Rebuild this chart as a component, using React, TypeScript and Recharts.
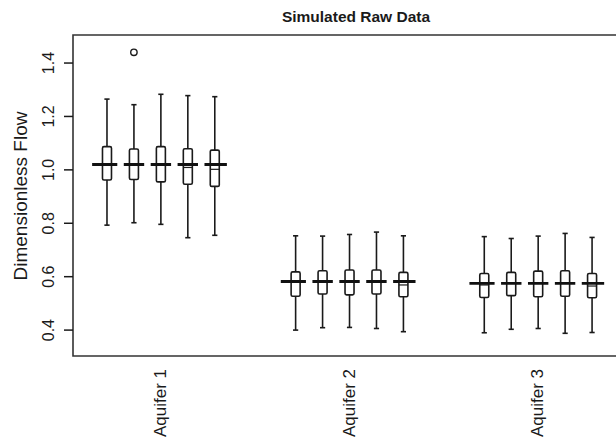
import React from "react";
import {
  ComposedChart,
  Bar,
  Scatter,
  XAxis,
  YAxis,
  ReferenceLine,
  ReferenceArea,
} from "recharts";

const groups = ["Aquifer 1", "Aquifer 2", "Aquifer 3"];
const groupTicks = [3, 10, 17];
const groupStart = [1, 8, 15];
const groupEnd = [5, 12, 19];
const trueValues = [1.02, 0.582, 0.575];

const positions = [1, 2, 3, 4, 5, 8, 9, 10, 11, 12, 15, 16, 17, 18, 19];
const whiskerHigh = [1.265, 1.244, 1.283, 1.278, 1.274, 0.753, 0.752, 0.758, 0.767, 0.753, 0.75, 0.743, 0.752, 0.762, 0.747];
const q3 = [1.087, 1.078, 1.087, 1.079, 1.074, 0.618, 0.622, 0.625, 0.625, 0.616, 0.612, 0.616, 0.621, 0.622, 0.612];
const medians = [1.022, 1.02, 1.02, 1.009, 1.002, 0.58, 0.584, 0.584, 0.584, 0.569, 0.569, 0.575, 0.575, 0.575, 0.565];
const q1 = [0.962, 0.964, 0.955, 0.946, 0.938, 0.527, 0.535, 0.532, 0.535, 0.525, 0.522, 0.529, 0.525, 0.527, 0.521];
const whiskerLow = [0.793, 0.802, 0.796, 0.746, 0.755, 0.4, 0.409, 0.41, 0.406, 0.394, 0.39, 0.403, 0.406, 0.388, 0.391];

const outlierPos = [2];
const outlierValues = [1.44];

const yTicks = [0.4, 0.6, 0.8, 1.0, 1.2, 1.4];

const INK = "#1a1a1a";
const FONT = "'Liberation Sans', Arial, Helvetica, sans-serif";

const boxData = positions.map((pos, i) => ({
  pos,
  range: [whiskerLow[i], whiskerHigh[i]],
  lo: whiskerLow[i],
  hi: whiskerHigh[i],
  q1: q1[i],
  med: medians[i],
  q3: q3[i],
}));

const outliers = outlierPos.map((pos, i) => ({ pos, v: outlierValues[i] }));

// ranged bar gives the pixel span of the whiskers; the rest is interpolated on it
const BoxShape = (props: any) => {
  const { x, y, width, height, payload } = props;
  if (!payload) return null;
  const top = Math.min(y, y + height);
  const h = Math.abs(height);
  const px = (v: number) => top + ((payload.hi - v) / (payload.hi - payload.lo)) * h;
  const cx = x + width / 2;
  const cap = 2.6;
  return (
    <g stroke={INK} strokeWidth={1.6} fill="none">
      <line x1={cx} x2={cx} y1={px(payload.hi)} y2={px(payload.q3)} />
      <line x1={cx} x2={cx} y1={px(payload.q1)} y2={px(payload.lo)} />
      <line x1={cx - cap} x2={cx + cap} y1={px(payload.hi)} y2={px(payload.hi)} />
      <line x1={cx - cap} x2={cx + cap} y1={px(payload.lo)} y2={px(payload.lo)} />
      <rect
        x={x}
        y={px(payload.q3)}
        width={width}
        height={px(payload.q1) - px(payload.q3)}
        rx={1.5}
        fill="#fff"
      />
      <line x1={x} x2={x + width} y1={px(payload.med)} y2={px(payload.med)} strokeWidth={1.2} />
    </g>
  );
};

const YTick = (props: any) => {
  const { x, y, payload } = props;
  const bx = x - 8;
  return (
    <text
      x={bx}
      y={y}
      transform={`rotate(-90, ${bx}, ${y})`}
      textAnchor="middle"
      fontFamily={FONT}
      fontSize={16}
      fill={INK}
    >
      {payload.value.toFixed(1)}
    </text>
  );
};

const XTick = (props: any) => {
  const { x, y, payload } = props;
  const bx = x + 5;
  const by = y + 5;
  const idx = groupTicks.indexOf(payload.value);
  return (
    <text
      x={bx}
      y={by}
      transform={`rotate(-90, ${bx}, ${by})`}
      textAnchor="end"
      fontFamily={FONT}
      fontSize={17}
      fill={INK}
    >
      {groups[idx]}
    </text>
  );
};

const App: React.FC = () => {
  return (
    <div
      style={{
        position: "fixed",
        left: 0,
        top: 0,
        width: 616,
        height: 447,
        overflow: "hidden",
        background: "#fff",
      }}
    >
      <div
        style={{
          position: "absolute",
          left: 80,
          width: 552,
          top: 8,
          textAlign: "center",
          fontFamily: FONT,
          fontWeight: "bold",
          fontSize: 15.5,
          color: INK,
        }}
      >
        Simulated Raw Data
      </div>
      <ComposedChart
        width={640}
        height={447}
        data={boxData}
        margin={{ top: 35, right: 14, bottom: 0, left: 0 }}
      >
        <XAxis
          dataKey="pos"
          type="number"
          domain={[-0.26, 20.26]}
          ticks={groupTicks}
          axisLine={false}
          tickLine={false}
          tick={<XTick />}
          height={91}
          allowDataOverflow
        />
        <YAxis
          type="number"
          domain={[0.303, 1.505]}
          ticks={yTicks}
          width={73}
          axisLine={false}
          tickSize={9}
          tickLine={{ stroke: INK, strokeWidth: 1.5 }}
          tick={<YTick />}
          allowDataOverflow
          label={{
            content: () => (
              <text
                x={27}
                y={196}
                transform="rotate(-90, 27, 196)"
                textAnchor="middle"
                fontFamily={FONT}
                fontSize={19}
                fill={INK}
              >
                Dimensionless Flow
              </text>
            ),
          }}
        />
        <ReferenceArea
          x1={-0.26}
          x2={20.26}
          y1={0.303}
          y2={1.505}
          fill="none"
          stroke="#333"
          strokeWidth={1.6}
          ifOverflow="visible"
        />
        <Bar
          dataKey="range"
          barSize={9}
          shape={<BoxShape />}
          isAnimationActive={false}
        />
        {trueValues.map((v, i) => (
          <ReferenceLine
            key={groups[i]}
            segment={[
              { x: groupStart[i] - 0.55, y: v },
              { x: groupEnd[i] + 0.45, y: v },
            ]}
            stroke="#111"
            strokeWidth={2.8}
            strokeDasharray="25.15 6.5 20.4 6.5 20.4 6.5 20.4 6.5 30"
          />
        ))}
        <Scatter
          data={outliers}
          dataKey="v"
          isAnimationActive={false}
          shape={(p: any) => (
            <circle cx={p.cx} cy={p.cy} r={3.2} fill="none" stroke={INK} strokeWidth={1.4} />
          )}
        />
      </ComposedChart>
    </div>
  );
};

export default App;
